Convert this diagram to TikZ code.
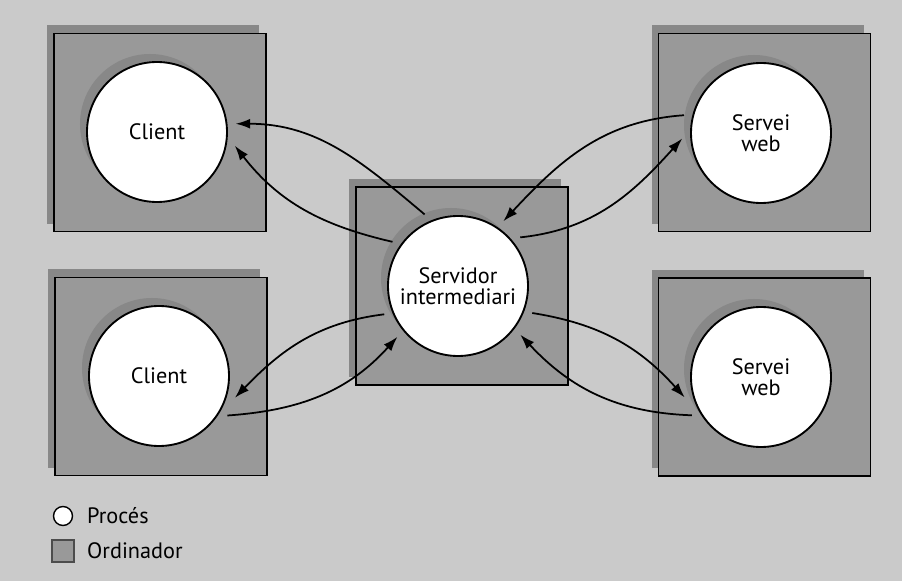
\documentclass[tikz,border=0pt]{standalone}
\usepackage{fontspec}
\setmainfont{PT Sans}
\usetikzlibrary{shadows,arrows.meta}
\definecolor{fonsgris}{RGB}{202,202,202}
\definecolor{caixagris}{RGB}{153,153,153}
\definecolor{ombragris}{RGB}{136,136,136}

\begin{document}
\begin{tikzpicture}[x=0.03cm, y=0.03cm,
    ombra/.style={drop shadow={shadow xshift=-0.21cm, shadow yshift=0.24cm, fill=ombragris, opacity=1}},
    ordinador/.style={draw=black, line width=1.6pt, fill=caixagris, minimum width=6.36cm, minimum height=5.94cm, ombra},
    proces/.style={circle, draw=black, line width=1.6pt, fill=white, minimum size=4.2cm, inner sep=0pt,
      outer sep=0.27cm, align=center, font=\fontsize{19}{17.5}\selectfont, ombra},
    fletxa/.style={line width=1.5pt, -{Latex[length=12.5pt, width=8.5pt]}},
    llegenda/.style={anchor=west, inner sep=0pt, font=\fontsize{19}{17.5}\selectfont}]
    % fons
    \fill[fonsgris] (0,0) rectangle (902,581);

    % ordinadors
    \node[ordinador] (ord1) at (160,448.5) {};
    \node[ordinador] (ord2) at (161,204.5) {};
    \node[ordinador] (ord3) at (462,295) {};
    \node[ordinador] (ord4) at (764.5,448.5) {};
    \node[ordinador] (ord5) at (764.5,204) {};

    % processos
    \node[proces] (cli1) at (157,449) {Client};
    \node[proces] (cli2) at (159,205) {Client};
    \node[proces] (srv) at (458,295) {Servidor\\intermediari};
    \node[proces] (web1) at (761,448) {Servei\\web};
    \node[proces] (web2) at (761,204) {Servei\\web};

    % peticions i respostes
    \draw[fletxa] (srv.115) to[out=140, in=0] (cli1.6);
    \draw[fletxa] (srv.146) to[out=167, in=-52] (cli1.-10);
    \draw[fletxa] (srv.201) to[out=187, in=46] (cli2.-16);
    \draw[fletxa] (cli2.-30) to[out=4, in=228] (srv.220);
    \draw[fletxa] (web1.167) to[out=184, in=47] (srv.55);
    \draw[fletxa] (srv.38) to[out=6, in=228] (web1.184);
    \draw[fletxa] (srv.-20) to[out=-9, in=132] (web2.195);
    \draw[fletxa] (web2.209) to[out=178, in=-47] (srv.-38);

    % llegenda
    \node[circle, draw=black, line width=1.2pt, fill=white, minimum size=0.57cm, inner sep=0pt] (llproc) at (63,65) {};
    \node[llegenda] (txtproc) at (87,65) {Procés};
    \node[draw=black!70, line width=1.2pt, fill=caixagris, minimum size=0.66cm, inner sep=0pt] (llord) at (63,30) {};
    \node[llegenda] (txtord) at (87,30) {Ordinador};
\end{tikzpicture}
\end{document}
